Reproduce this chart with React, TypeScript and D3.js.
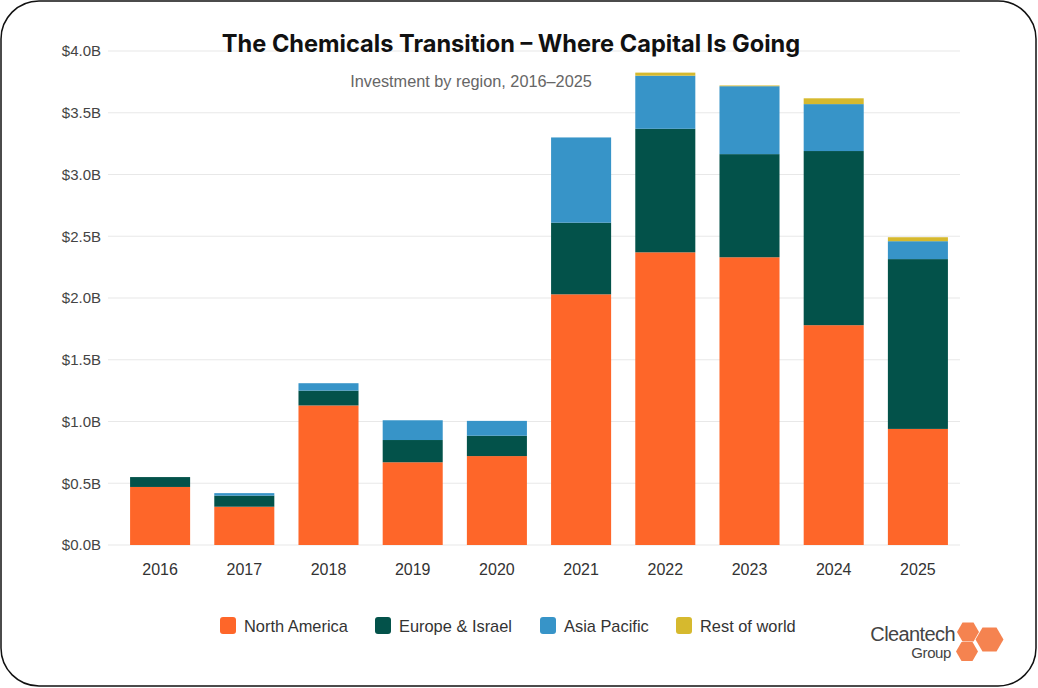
import React from "react";
import * as d3 from "d3";

const years = ["2016", "2017", "2018", "2019", "2020", "2021", "2022", "2023", "2024", "2025"];
const northAmerica = [0.47, 0.31, 1.13, 0.67, 0.72, 2.03, 2.37, 2.33, 1.78, 0.94];
const europeIsrael = [0.08, 0.09, 0.12, 0.18, 0.165, 0.58, 1.0, 0.835, 1.41, 1.375];
const asiaPacific = [0, 0.02, 0.06, 0.16, 0.12, 0.69, 0.43, 0.55, 0.38, 0.145];
const restOfWorld = [0, 0, 0, 0, 0, 0, 0.025, 0.006, 0.047, 0.032];
const seriesNames = ["North America", "Europe & Israel", "Asia Pacific", "Rest of world"];
const seriesColors = ["#FE6629", "#03524A", "#3794C8", "#D6B92E"];
const yTicks = [0, 0.5, 1, 1.5, 2, 2.5, 3, 3.5, 4];

const W = 1038;
const H = 688;

export default function App() {
  const keys = ["na", "eu", "ap", "row"];
  const rows = years.map((y, i) => ({
    year: y,
    na: northAmerica[i],
    eu: europeIsrael[i],
    ap: asiaPacific[i],
    row: restOfWorld[i],
  }));
  const stacked = d3.stack<any>().keys(keys)(rows);

  const x = d3.scaleBand<string>().domain(years).range([118, 960]).paddingInner(0.287).paddingOuter(0.1435);
  const y = d3.scaleLinear().domain([0, 4]).range([545, 51]);
  const fmt = (v: number) => `$${v.toFixed(1)}B`;

  const legendX = [220, 375, 540, 676];

  const hex = (cx: number, cy: number, r: number) =>
    d3.range(6)
      .map((k) => {
        const a = (Math.PI / 3) * k;
        return `${cx + r * Math.cos(a)},${cy + r * Math.sin(a)}`;
      })
      .join(" ");

  return (
    <svg
      width={W}
      height={H}
      style={{ position: "absolute", left: 0, top: 0, background: "#fff" }}
      fontFamily="'Liberation Sans', Arial, sans-serif"
    >
      <rect x={1} y={1} width={W - 3} height={H - 3} rx={38} ry={38} fill="#fff" stroke="#111" strokeWidth={1.5} />

      {yTicks.map((t) => (
        <g key={t}>
          <line x1={108} x2={960} y1={y(t)} y2={y(t)} stroke="#e8e8e8" strokeWidth={1.2} />
          <text x={101} y={y(t) + 5.3} textAnchor="end" fontSize={15} fill="#444">
            {fmt(t)}
          </text>
        </g>
      ))}

      {stacked.map((s, si) => (
        <g key={s.key} fill={seriesColors[si]}>
          {s.map((d, i) => {
            const h = y(d[0]) - y(d[1]);
            if (h <= 0) return null;
            return <rect key={i} x={x(years[i])} y={y(d[1])} width={x.bandwidth()} height={h} />;
          })}
        </g>
      ))}

      {years.map((yr) => (
        <text key={yr} x={(x(yr) as number) + x.bandwidth() / 2} y={575} textAnchor="middle" fontSize={16} fill="#333">
          {yr}
        </text>
      ))}

      <text x={511} y={52} textAnchor="middle" fontSize={23.6} fontWeight={700} fill="#111" fontFamily="Inter, 'Open Sans', sans-serif">
        The Chemicals Transition – Where Capital Is Going
      </text>
      <text x={471} y={87} textAnchor="middle" fontSize={16.3} fill="#666">
        Investment by region, 2016–2025
      </text>

      {seriesNames.map((n, i) => (
        <g key={n}>
          <rect x={legendX[i]} y={617} width={16} height={17} rx={3} fill={seriesColors[i]} />
          <text x={legendX[i] + 24} y={632} fontSize={16.4} fill="#333">
            {n}
          </text>
        </g>
      ))}

      <text x={955} y={641} textAnchor="end" fontSize={20} fill="#444" letterSpacing={-0.6}>
        Cleantech
      </text>
      <text x={951} y={658} textAnchor="end" fontSize={15} fill="#444" letterSpacing={-0.4}>
        Group
      </text>
      <polygon points={hex(968, 632, 11)} fill="#F58350" />
      <polygon points={hex(989.5, 639.5, 14)} fill="#F58350" />
      <polygon points={hex(967, 651.5, 11)} fill="#F58350" />
    </svg>
  );
}
